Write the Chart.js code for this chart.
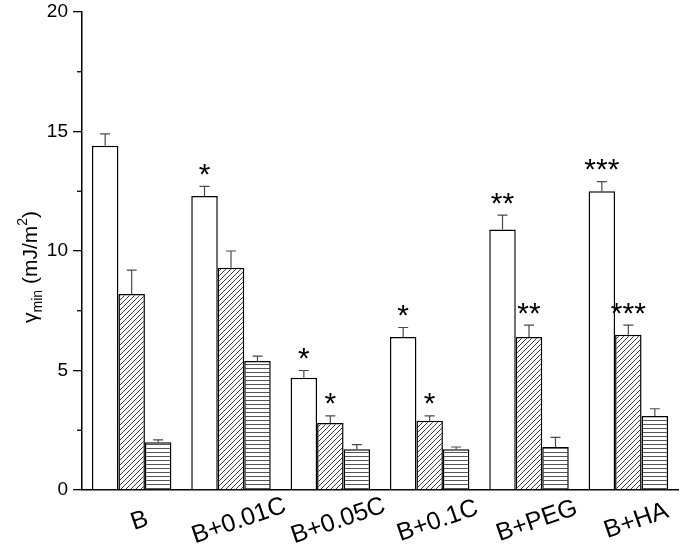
<!DOCTYPE html>
<html>
<head>
<meta charset="utf-8">
<script src="https://cdn.jsdelivr.net/npm/chart.js@4.4.0/dist/chart.umd.min.js"></script>
<style>
  html, body { margin: 0; padding: 0; background: #fff; }
  #wrap { width: 685px; height: 548px; }
</style>
</head>
<body>
<div id="wrap"><canvas id="chGamma" width="685" height="548"></canvas></div>
<script>
var categories = ['B', 'B+0.01C', 'B+0.05C', 'B+0.1C', 'B+PEG', 'B+HA'];
var whiteVals  = [14.4, 12.3, 4.7, 6.4, 10.9, 12.5];
var whiteErr   = [0.5, 0.4, 0.3, 0.4, 0.6, 0.4];
var diagVals   = [8.2, 9.3, 2.8, 2.9, 6.4, 6.5];
var diagErr    = [1.0, 0.7, 0.3, 0.2, 0.5, 0.4];
var horizVals  = [2.0, 5.4, 1.7, 1.7, 1.8, 3.1];
var horizErr   = [0.1, 0.2, 0.2, 0.1, 0.4, 0.3];
var whiteSig   = ['', '*', '*', '*', '**', '***'];
var diagSig    = ['', '', '*', '*', '**', '***'];
var horizSig   = ['', '', '', '', '', ''];
var yTicks     = [0, 5, 10, 15, 20];
var yMinor     = [2.5, 7.5, 12.5, 17.5];

var FONT = '"Liberation Sans", Arial, Helvetica, sans-serif';

function makeDiag() {
    var c = document.createElement('canvas');
    c.width = 5; c.height = 5;
    var g = c.getContext('2d');
    g.fillStyle = '#fff';
    g.fillRect(0, 0, 5, 5);
    g.strokeStyle = '#3a3a3a';
    g.lineWidth = 1;
    g.beginPath();
    g.moveTo(-1, 6); g.lineTo(6, -1);
    g.moveTo(-1, 1); g.lineTo(1, -1);
    g.moveTo(4, 6); g.lineTo(6, 4);
    g.stroke();
    return g.createPattern(c, 'repeat');
}
function makeHoriz() {
    var c = document.createElement('canvas');
    c.width = 4; c.height = 4;
    var g = c.getContext('2d');
    g.fillStyle = '#fff';
    g.fillRect(0, 0, 4, 4);
    g.strokeStyle = '#555';
    g.lineWidth = 1;
    g.beginPath();
    g.moveTo(0, 0.5); g.lineTo(4, 0.5);
    g.stroke();
    return g.createPattern(c, 'repeat');
}

var errs = [whiteErr, diagErr, horizErr];
var sigs = [whiteSig, diagSig, horizSig];

var extrasPlugin = {
    id: 'extras',
    afterDatasetsDraw: function(chart) {
        var ctx = chart.ctx;
        var y = chart.scales.y;
        ctx.save();
        chart.data.datasets.forEach(function(ds, i) {
            var meta = chart.getDatasetMeta(i);
            meta.data.forEach(function(bar, j) {
                var top = y.getPixelForValue(ds.data[j] + errs[i][j]);
                ctx.strokeStyle = '#4a4a4a';
                ctx.lineWidth = 1.2;
                ctx.beginPath();
                ctx.moveTo(bar.x, bar.y);
                ctx.lineTo(bar.x, top);
                ctx.moveTo(bar.x - 5, top);
                ctx.lineTo(bar.x + 5, top);
                ctx.stroke();
                var s = sigs[i][j];
                if (s) {
                    ctx.font = '30px ' + FONT;
                    ctx.fillStyle = '#000';
                    ctx.textAlign = 'center';
                    ctx.textBaseline = 'alphabetic';
                    var m = ctx.measureText(s);
                    var mid = (m.actualBoundingBoxAscent - m.actualBoundingBoxDescent) / 2;
                    ctx.fillText(s, bar.x, top - 17 + mid);
                }
            });
        });
        ctx.restore();
    },
    afterDraw: function(chart) {
        var ctx = chart.ctx;
        var y = chart.scales.y, x = chart.scales.x;
        var left = chart.chartArea.left;
        ctx.save();
        // minor ticks
        ctx.strokeStyle = '#000';
        ctx.lineWidth = 1.3;
        yMinor.forEach(function(v) {
            var py = y.getPixelForValue(v);
            ctx.beginPath();
            ctx.moveTo(left - 5, py);
            ctx.lineTo(left, py);
            ctx.stroke();
        });
        // category labels
        ctx.fillStyle = '#000';
        ctx.font = '25px ' + FONT;
        ctx.textAlign = 'center';
        ctx.textBaseline = 'middle';
        categories.forEach(function(c, i) {
            ctx.save();
            ctx.translate(x.getPixelForValue(i) + 8, 521);
            ctx.rotate(-19 * Math.PI / 180);
            ctx.fillText(c, 0, 0);
            ctx.restore();
        });
        // y axis title with sub/superscripts
        var parts = [
            {t: '\u03B3', f: 21, dy: 0},
            {t: 'min', f: 14, dy: 5},
            {t: ' (mJ/m', f: 21, dy: 0},
            {t: '2', f: 14, dy: -10},
            {t: ')', f: 21, dy: 0}
        ];
        var total = 0;
        parts.forEach(function(p) {
            ctx.font = p.f + 'px ' + FONT;
            p.w = ctx.measureText(p.t).width;
            total += p.w;
        });
        ctx.translate(30, 267);
        ctx.rotate(-Math.PI / 2);
        ctx.textAlign = 'left';
        ctx.textBaseline = 'alphabetic';
        var cx = -total / 2;
        parts.forEach(function(p) {
            ctx.font = p.f + 'px ' + FONT;
            ctx.fillText(p.t, cx, 7 + p.dy);
            cx += p.w;
        });
        ctx.restore();
    }
};

new Chart(document.getElementById('chGamma'), {
    type: 'bar',
    data: {
        labels: categories,
        datasets: [
            { data: whiteVals, backgroundColor: '#fff', borderColor: '#000', borderWidth: 1.5 },
            { data: diagVals, backgroundColor: makeDiag(), borderColor: '#000', borderWidth: 1.5 },
            { data: horizVals, backgroundColor: makeHoriz(), borderColor: '#000', borderWidth: 1.5 }
        ]
    },
    options: {
        responsive: false,
        animation: false,
        events: [],
        categoryPercentage: 0.8,
        barPercentage: 1.0,
        layout: { padding: { top: 12, right: 7, left: 0, bottom: 0 } },
        plugins: { legend: { display: false }, tooltip: { enabled: false } },
        scales: {
            x: {
                grid: { display: false },
                border: { display: true, color: '#000', width: 1.5 },
                ticks: { display: false },
                afterFit: function(s) { s.height = 58; s.paddingLeft = 0; s.paddingRight = 0; }
            },
            y: {
                min: 0,
                max: 20,
                afterBuildTicks: function(s) { s.ticks = yTicks.map(function(v) { return {value: v}; }); },
                grid: { display: true, drawOnChartArea: false, drawTicks: true, tickLength: 9, color: '#000', lineWidth: 1.3 },
                border: { display: true, color: '#000', width: 1.5 },
                ticks: { color: '#000', font: { size: 19, family: FONT }, padding: 5 },
                afterFit: function(s) { s.width = 82; s.paddingTop = 0; s.paddingBottom = 0; }
            }
        }
    },
    plugins: [extrasPlugin]
});
</script>
</body>
</html>
